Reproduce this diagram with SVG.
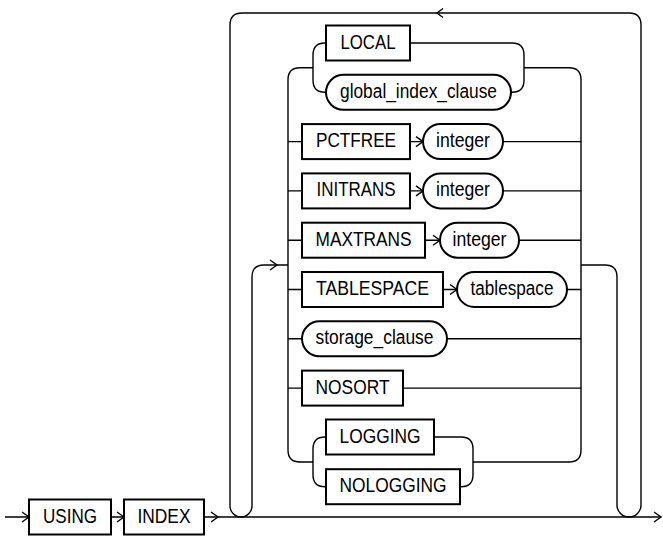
<svg xmlns="http://www.w3.org/2000/svg" width="663" height="537" viewBox="0 0 663 537">
<style>
  .bg{fill:#fff}
  .box{fill:#fff;stroke:#000;stroke-width:2}
  .ln{fill:none;stroke:#000;stroke-width:1.4}
  .ah{fill:none;stroke:#000;stroke-width:1.4}
  text{font-family:"Liberation Sans",Arial,sans-serif;font-size:20px;fill:#000;text-anchor:middle}
</style>
<rect class="bg" x="0" y="0" width="663" height="537"/>
<g id="connectors">
  <path class="ln" d="M5,517 H29 M111,517 H124 M204,517 H661"/>
  <path class="ah" d="M22,512 L29,517 L22,522 M117,512 L124,517 L117,522 M211,512 L218,517 L211,522 M654,512 L661,517 L654,522"/>
  <path class="ln" d="M230,506 V25 Q230,13 242,13 H629 Q641,13 641,25 V505"/>
  <path class="ah" d="M443,8.5 L437,13 L443,17.5"/>
  <path class="ln" d="M230,506 A11,11 0 0 0 252,506 M617,505 A12,12 0 0 0 641,505"/>
  <path class="ln" d="M252,506 V277 Q252,265 264,265 H288"/>
  <path class="ah" d="M270,260 L277,265 L270,270"/>
  <path class="ln" d="M581,265 H605 Q617,265 617,277 V505"/>
  <path class="ln" d="M313,67.7 H300 Q288,67.7 288,79.7 V450 Q288,462 300,462 H313"/>
  <path class="ln" d="M524,67.7 H569 Q581,67.7 581,79.7 V450 Q581,462 569,462 H473"/>
  <path class="ln" d="M326,43 H325 Q313,43 313,55 V80.3 Q313,92.3 325,92.3 H326"/>
  <path class="ln" d="M410,43 H512 Q524,43 524,55 V80.3 Q524,92.3 512,92.3 H511"/>
  <path class="ln" d="M326,437 H325 Q313,437 313,449 V474.7 Q313,486.7 325,486.7 H326"/>
  <path class="ln" d="M434,437 H461 Q473,437 473,449 V474.7 Q473,486.7 461,486.7 H460"/>
  <path class="ln" d="M288,141.6 H302 M410,141.6 H423 M503,141.6 H581"/>
  <path class="ah" d="M416,136.6 L423,141.6 L416,146.6"/>
  <path class="ln" d="M288,190.9 H302 M410,190.9 H423 M503,190.9 H581"/>
  <path class="ah" d="M416,185.9 L423,190.9 L416,195.9"/>
  <path class="ln" d="M288,240.2 H302 M425,240.2 H440 M519,240.2 H581"/>
  <path class="ah" d="M433,235.2 L440,240.2 L433,245.2"/>
  <path class="ln" d="M288,289.5 H302 M443,289.5 H457 M567,289.5 H581"/>
  <path class="ah" d="M450,284.5 L457,289.5 L450,294.5"/>
  <path class="ln" d="M288,338.8 H302 M447,338.8 H581"/>
  <path class="ln" d="M288,388.1 H302 M403,388.1 H581"/>
</g>
<g id="n-using"><rect class="box" x="29" y="499.5" width="82" height="35"/><text x="70" y="522.5" textLength="54" lengthAdjust="spacingAndGlyphs">USING</text></g>
<g id="n-index"><rect class="box" x="124" y="499.5" width="80" height="35"/><text x="164" y="522.5" textLength="53" lengthAdjust="spacingAndGlyphs">INDEX</text></g>
<g id="n-local"><rect class="box" x="326" y="25.5" width="84" height="35"/><text x="368" y="48.5" textLength="55" lengthAdjust="spacingAndGlyphs">LOCAL</text></g>
<g id="n-global"><rect class="box" x="326" y="74.8" width="185" height="35" rx="17.5"/><text x="418.5" y="97.8" textLength="157" lengthAdjust="spacingAndGlyphs">global_index_clause</text></g>
<g id="n-pctfree"><rect class="box" x="302" y="124.1" width="108" height="35"/><text x="356" y="147.1" textLength="80" lengthAdjust="spacingAndGlyphs">PCTFREE</text></g>
<g id="n-int1"><rect class="box" x="423" y="124.1" width="80" height="35" rx="17.5"/><text x="463" y="147.1" textLength="54" lengthAdjust="spacingAndGlyphs">integer</text></g>
<g id="n-initrans"><rect class="box" x="302" y="173.4" width="108" height="35"/><text x="356" y="196.4" textLength="79" lengthAdjust="spacingAndGlyphs">INITRANS</text></g>
<g id="n-int2"><rect class="box" x="423" y="173.4" width="80" height="35" rx="17.5"/><text x="463" y="196.4" textLength="54" lengthAdjust="spacingAndGlyphs">integer</text></g>
<g id="n-maxtrans"><rect class="box" x="302" y="222.7" width="123" height="35"/><text x="363.5" y="245.7" textLength="96" lengthAdjust="spacingAndGlyphs">MAXTRANS</text></g>
<g id="n-int3"><rect class="box" x="440" y="222.7" width="79" height="35" rx="17.5"/><text x="479.5" y="245.7" textLength="54" lengthAdjust="spacingAndGlyphs">integer</text></g>
<g id="n-tablespace-kw"><rect class="box" x="302" y="272" width="141" height="35"/><text x="372.5" y="295" textLength="113" lengthAdjust="spacingAndGlyphs">TABLESPACE</text></g>
<g id="n-tablespace"><rect class="box" x="457" y="272" width="110" height="35" rx="17.5"/><text x="512" y="295" textLength="83" lengthAdjust="spacingAndGlyphs">tablespace</text></g>
<g id="n-storage"><rect class="box" x="302" y="321.3" width="145" height="35" rx="17.5"/><text x="374.5" y="344.3" textLength="118" lengthAdjust="spacingAndGlyphs">storage_clause</text></g>
<g id="n-nosort"><rect class="box" x="302" y="370.6" width="101" height="35"/><text x="352.5" y="393.6" textLength="74" lengthAdjust="spacingAndGlyphs">NOSORT</text></g>
<g id="n-logging"><rect class="box" x="326" y="419.5" width="108" height="35"/><text x="380" y="442.5" textLength="81" lengthAdjust="spacingAndGlyphs">LOGGING</text></g>
<g id="n-nologging"><rect class="box" x="326" y="469.2" width="134" height="35"/><text x="393" y="492.2" textLength="107" lengthAdjust="spacingAndGlyphs">NOLOGGING</text></g>
</svg>
